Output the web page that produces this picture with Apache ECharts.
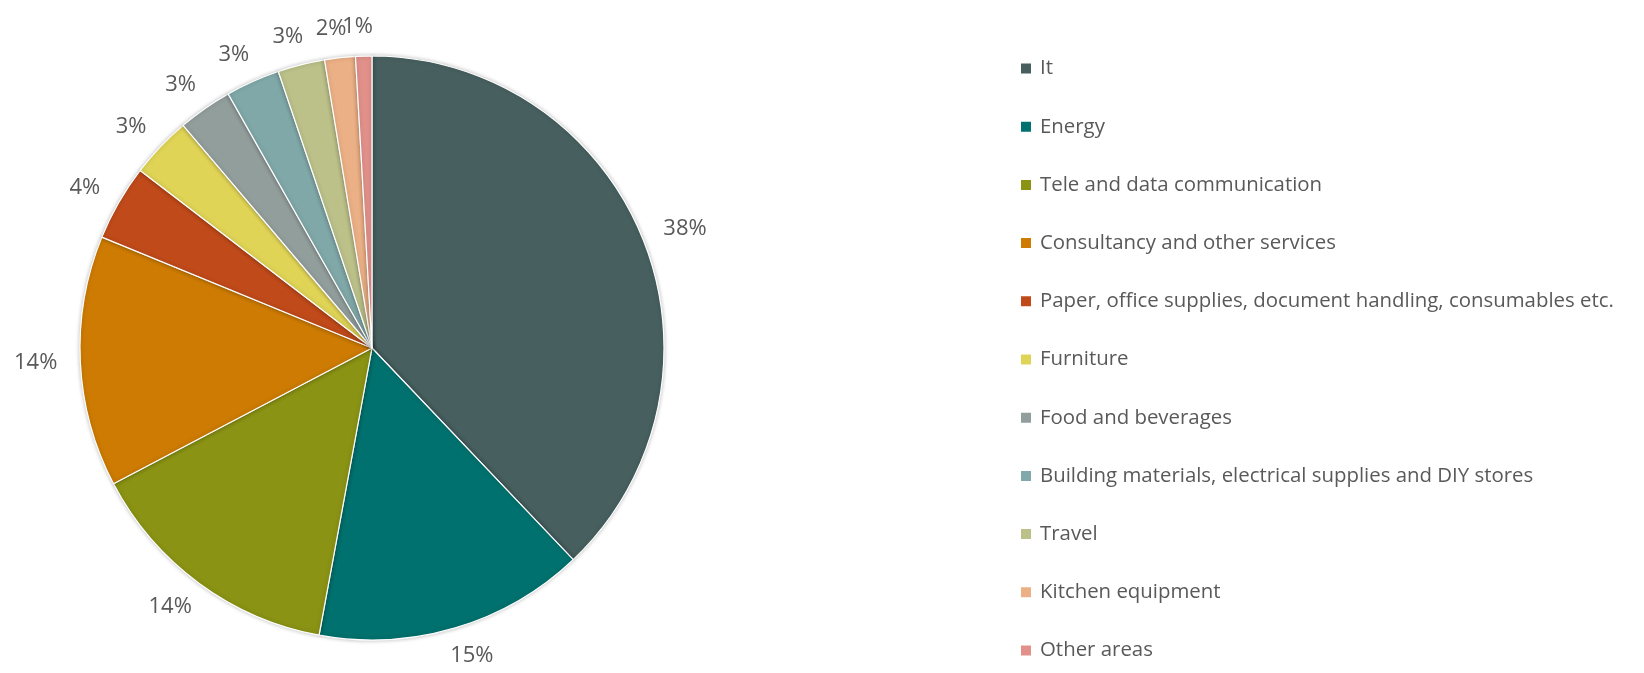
<!DOCTYPE html>
<html>
<head>
<meta charset="utf-8">
<script src="https://cdn.jsdelivr.net/npm/echarts@6/dist/echarts.min.js"></script>
<style>
html, body { margin: 0; padding: 0; background: #fff; }
#chart { width: 1644px; height: 673px; }
</style>
</head>
<body>
<div id="chart"></div>
<script>
// spend areas, clockwise from 12 o'clock
const categories = [
  'It',
  'Energy',
  'Tele and data communication',
  'Consultancy and other services',
  'Paper, office supplies, document handling, consumables etc.',
  'Furniture',
  'Food and beverages',
  'Building materials, electrical supplies and DIY stores',
  'Travel',
  'Kitchen equipment',
  'Other areas'
];
// share of spend in percent
const shares = [37.9, 15.0, 14.4, 13.9, 4.2, 3.4, 3.0, 3.0, 2.6, 1.7, 0.9];
const colors = [
  '#475f5f', '#00716e', '#8a9314', '#cd7b03', '#c04a1a', '#e0d456',
  '#929e9c', '#80a8a8', '#bcc089', '#ecb086', '#e1918a'
];

const chart = echarts.init(document.getElementById('chart'));
const center = [372, 348];
const radius = 292;

// put the label box just outside the rim, like the original (box touches the anchor point)
function placeLabel(p) {
  const r = p.labelRect;
  const onRight = r.x + r.width / 2 > center[0];
  const ax = onRight ? r.x : r.x + r.width;
  const ay = r.y + r.height / 2;
  let ux = ax - center[0], uy = ay - center[1];
  const len = Math.sqrt(ux * ux + uy * uy) || 1;
  ux /= len; uy /= len;
  let x = ax + ux * r.width / 2;
  let y = ay + uy * r.height / 2;
  const h = chart.getHeight();
  if (y + r.height / 2 > h) y = h - r.height / 2;
  if (y - r.height / 2 < 0) y = r.height / 2;
  return { x: x, y: y, align: 'center', verticalAlign: 'middle' };
}

const option = {
  animation: false,
  color: colors,
  legend: {
    orient: 'vertical',
    left: 1019,
    top: 58.5,
    padding: 0,
    icon: 'rect',
    itemWidth: 12,
    itemHeight: 12,
    itemGap: 38.2,
    selectedMode: false,
    textStyle: {
      fontFamily: 'Open Sans',
      fontSize: 20.4,
      color: '#595959',
      padding: [0, 0, 0, 3]
    },
    data: categories
  },
  series: [
    {
      type: 'pie',
      center: center,
      radius: radius,
      startAngle: 90,
      clockwise: true,
      avoidLabelOverlap: false,
      silent: true,
      itemStyle: {
        borderColor: '#fff',
        borderWidth: 1.2,
        shadowBlur: 4,
        shadowColor: 'rgba(0,0,0,0.25)'
      },
      label: {
        show: true,
        position: 'outside',
        fontFamily: 'Open Sans',
        fontSize: 22,
        color: '#595959',
        formatter: function (p) {
          return Math.round(p.percent) + '%';
        }
      },
      labelLine: { show: false, length: 18, length2: 0 },
      labelLayout: placeLabel,
      emphasis: { disabled: true },
      data: categories.map(function (name, i) {
        return { name: name, value: shares[i] };
      })
    }
  ]
};

chart.setOption(option);
</script>
</body>
</html>
